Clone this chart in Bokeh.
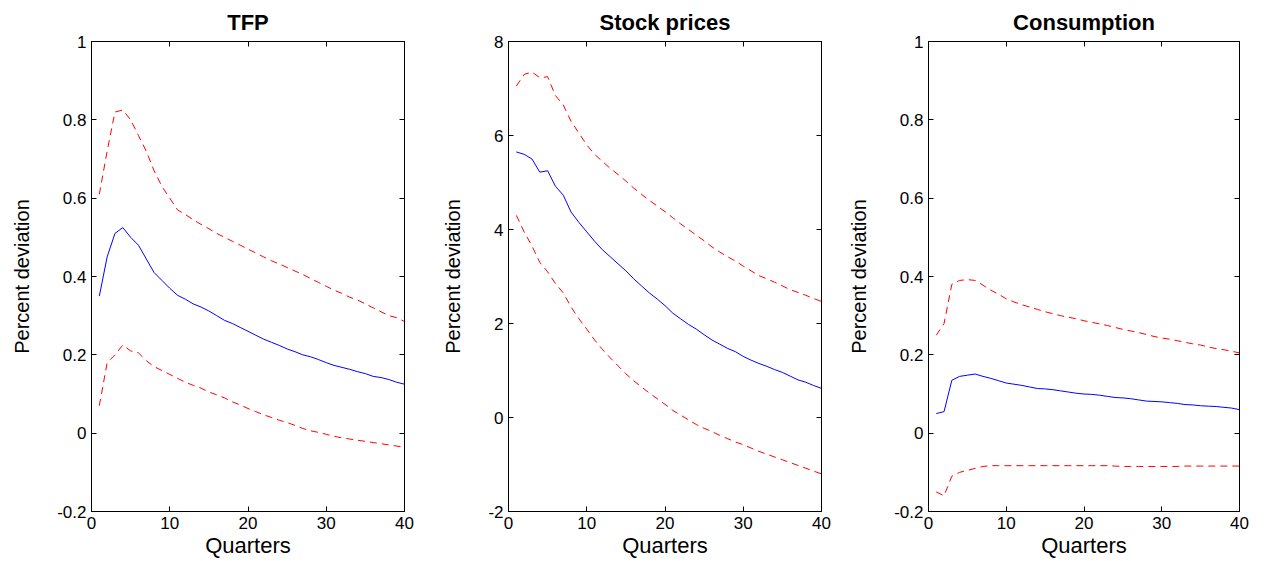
from bokeh.plotting import figure
from bokeh.models import (Range1d, LinearAxis, FixedTicker, NumeralTickFormatter,
                          CustomLabelingPolicy)
from bokeh.layouts import row
from bokeh.embed import file_html
from bokeh.resources import INLINE

# Quarters after the shock
quarters = list(range(1, 41))
x_ticks = [0, 10, 20, 30, 40]

# TFP response (median and bands)
tfp_median = [0.35, 0.45, 0.51, 0.525, 0.50, 0.48, 0.445, 0.41, 0.39, 0.37,
              0.352, 0.342, 0.33, 0.322, 0.312, 0.30, 0.288, 0.28, 0.27, 0.26,
              0.25, 0.24, 0.232, 0.224, 0.215, 0.208, 0.20, 0.195, 0.188, 0.18,
              0.173, 0.168, 0.163, 0.157, 0.152, 0.145, 0.142, 0.137, 0.13, 0.125]
tfp_upper = [0.61, 0.72, 0.82, 0.825, 0.80, 0.76, 0.72, 0.67, 0.63, 0.60,
             0.57, 0.558, 0.545, 0.533, 0.522, 0.51, 0.50, 0.49, 0.48, 0.47,
             0.46, 0.45, 0.44, 0.432, 0.423, 0.414, 0.405, 0.395, 0.385, 0.375,
             0.365, 0.357, 0.347, 0.34, 0.33, 0.32, 0.31, 0.30, 0.295, 0.285]
tfp_lower = [0.07, 0.18, 0.20, 0.225, 0.21, 0.205, 0.185, 0.17, 0.16, 0.15,
             0.14, 0.13, 0.122, 0.115, 0.105, 0.098, 0.09, 0.08, 0.072, 0.063,
             0.055, 0.047, 0.04, 0.033, 0.027, 0.02, 0.012, 0.006, 0.002, -0.003,
             -0.008, -0.012, -0.015, -0.018, -0.021, -0.024, -0.027, -0.03, -0.033, -0.036]
tfp_yticks = [-0.2, 0, 0.2, 0.4, 0.6, 0.8, 1]

# Stock prices response
stock_median = [5.65, 5.6, 5.5, 5.22, 5.25, 4.92, 4.73, 4.37, 4.15, 3.95,
                3.75, 3.57, 3.42, 3.27, 3.12, 2.95, 2.8, 2.65, 2.52, 2.38,
                2.22, 2.1, 1.98, 1.88, 1.76, 1.65, 1.56, 1.47, 1.4, 1.3,
                1.22, 1.15, 1.09, 1.02, 0.96, 0.88, 0.8, 0.75, 0.68, 0.62]
stock_upper = [7.05, 7.3, 7.35, 7.23, 7.25, 6.85, 6.65, 6.3, 6.05, 5.8,
               5.6, 5.45, 5.3, 5.17, 5.03, 4.88, 4.75, 4.62, 4.5, 4.38,
               4.25, 4.12, 4.0, 3.88, 3.76, 3.63, 3.52, 3.42, 3.33, 3.22,
               3.12, 3.02, 2.95, 2.88, 2.8, 2.72, 2.66, 2.6, 2.53, 2.47]
stock_lower = [4.3, 3.95, 3.65, 3.3, 3.1, 2.85, 2.65, 2.35, 2.1, 1.88,
               1.65, 1.45, 1.27, 1.1, 0.93, 0.78, 0.65, 0.52, 0.4, 0.28,
               0.15, 0.05, -0.05, -0.15, -0.23, -0.3, -0.38, -0.45, -0.52, -0.58,
               -0.65, -0.72, -0.78, -0.84, -0.9, -0.96, -1.02, -1.08, -1.14, -1.2]
stock_yticks = [-2, 0, 2, 4, 6, 8]

# Consumption response
cons_median = [0.05, 0.055, 0.135, 0.145, 0.148, 0.151, 0.145, 0.14, 0.134, 0.128,
               0.125, 0.122, 0.118, 0.114, 0.113, 0.111, 0.108, 0.105, 0.102, 0.1,
               0.099, 0.097, 0.094, 0.091, 0.09, 0.088, 0.085, 0.082, 0.081, 0.08,
               0.078, 0.076, 0.073, 0.072, 0.07, 0.069, 0.068, 0.066, 0.064, 0.06]
cons_upper = [0.25, 0.28, 0.38, 0.39, 0.392, 0.39, 0.378, 0.365, 0.355, 0.343,
              0.335, 0.328, 0.322, 0.316, 0.31, 0.305, 0.30, 0.296, 0.292, 0.287,
              0.283, 0.279, 0.275, 0.27, 0.265, 0.261, 0.257, 0.252, 0.247, 0.243,
              0.24, 0.236, 0.232, 0.228, 0.225, 0.22, 0.216, 0.213, 0.209, 0.205]
cons_lower = [-0.15, -0.16, -0.11, -0.1, -0.095, -0.09, -0.085, -0.083, -0.083, -0.083,
              -0.083, -0.083, -0.083, -0.083, -0.083, -0.083, -0.083, -0.083, -0.083, -0.083,
              -0.083, -0.083, -0.083, -0.084, -0.085, -0.085, -0.085, -0.085, -0.085, -0.085,
              -0.085, -0.085, -0.084, -0.084, -0.084, -0.084, -0.084, -0.084, -0.084, -0.084]
cons_yticks = [-0.2, 0, 0.2, 0.4, 0.6, 0.8, 1]

FONT = "Liberation Sans"


def style_axis(ax, ticks, show_labels=True):
    ax.ticker = FixedTicker(ticks=ticks)
    ax.major_tick_in = 5
    ax.major_tick_out = 0
    ax.minor_tick_line_color = None
    ax.axis_line_color = "black"
    ax.major_tick_line_color = "black"
    ax.major_label_text_font = FONT
    ax.major_label_text_color = "black"
    if show_labels:
        ax.major_label_text_font_size = "17px"
        ax.formatter = NumeralTickFormatter(format="0.[0]")
    else:
        # eje espejo: solo marcas, sin etiquetas
        ax.major_label_text_font_size = "0px"
        ax.major_label_policy = CustomLabelingPolicy(code="return []")
        ax.major_label_standoff = 0


def panel(title, yticks, median, upper, lower, left_b, frame_w, right_b):
    p = figure(
        title=title,
        frame_width=frame_w, frame_height=470,
        min_border_left=left_b, min_border_right=right_b,
        min_border_top=41, min_border_bottom=42,
        x_range=Range1d(0, 40), y_range=Range1d(yticks[0], yticks[-1]),
        toolbar_location=None, output_backend="svg",
    )
    p.title.align = "center"
    p.title.text_font = FONT
    p.title.text_font_size = "22px"
    p.title.text_font_style = "bold"
    p.title.text_color = "black"
    p.title.standoff = 13
    p.grid.visible = False
    p.outline_line_color = "black"

    # bandas y mediana
    p.line(quarters, upper, color="red", line_width=1, line_dash="7 5")
    p.line(quarters, lower, color="red", line_width=1, line_dash="7 5")
    p.line(quarters, median, color="blue", line_width=1)

    style_axis(p.xaxis[0], x_ticks)
    style_axis(p.yaxis[0], yticks)
    p.xaxis.axis_label = "Quarters"
    p.xaxis.axis_label_text_font = FONT
    p.xaxis.axis_label_text_font_size = "22px"
    p.xaxis.axis_label_text_font_style = "normal"
    p.xaxis.axis_label_text_color = "black"
    p.xaxis.axis_label_standoff = 1
    p.yaxis.axis_label = "Percent deviation"
    p.yaxis.axis_label_text_font = FONT
    p.yaxis.axis_label_text_font_size = "20px"
    p.yaxis.axis_label_text_font_style = "normal"
    p.yaxis.axis_label_text_color = "black"
    p.yaxis.axis_label_standoff = 21

    # ejes espejo (caja estilo MATLAB)
    top = LinearAxis()
    style_axis(top, x_ticks, show_labels=False)
    p.add_layout(top, "above")
    right = LinearAxis()
    style_axis(right, yticks, show_labels=False)
    p.add_layout(right, "right")
    return p


p1 = panel("TFP", tfp_yticks, tfp_median, tfp_upper, tfp_lower, 91, 313, 21)
p2 = panel("Stock prices", stock_yticks, stock_median, stock_upper, stock_lower, 83, 313, 24)
p3 = panel("Consumption", cons_yticks, cons_median, cons_upper, cons_lower, 83, 311, 20)

p = row(p1, p2, p3)
open("out.html", "w").write(file_html(p, INLINE))
